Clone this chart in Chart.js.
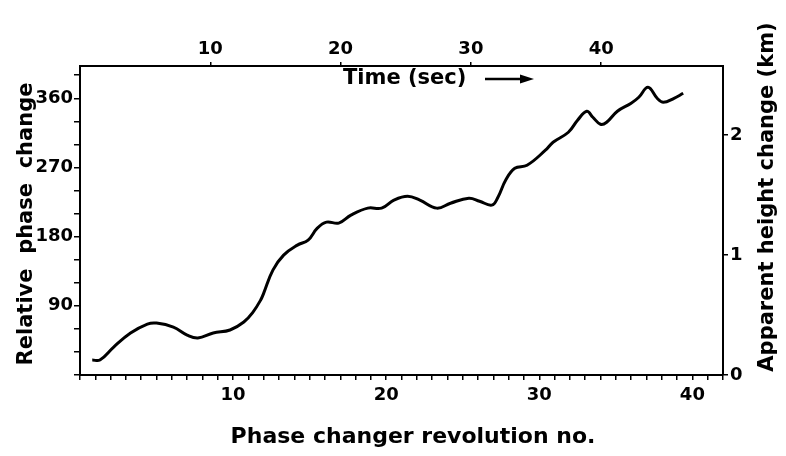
<!DOCTYPE html>
<html>
<head>
<meta charset="utf-8">
<script src="https://cdn.jsdelivr.net/npm/chart.js@4.4.0/dist/chart.umd.min.js"></script>
<style>
  body { margin: 0; background: #fff; }
  #wrap { width: 786px; height: 456px; }
</style>
</head>
<body>
<div id="wrap"><canvas id="phase-chart" width="786" height="456"></canvas></div>
<script>
// phase changer revolution no. vs relative phase change (degrees)
const revolution = [0.8, 1.3, 2.2, 3.3, 4.4, 5.0, 6.1, 7.0, 7.7, 8.7, 9.8, 10.7, 11.3, 11.8, 12.0, 12.6,
  13.3, 14.2, 14.9, 15.5, 16.1, 16.9, 17.7, 18.8, 19.7, 20.5, 21.4, 22.2, 23.3, 24.2, 25.4, 26.1,
  26.9, 27.3, 27.8, 28.4, 29.2, 30.4, 30.9, 31.9, 32.5, 33.1, 33.5, 34.0, 34.4, 35.1, 36.0, 36.5,
  37.1, 37.7, 38.1, 38.8, 39.4];
const phaseChange = [19.5, 19.5, 36.4, 54.6, 66.3, 67.6, 62.4, 52.0, 48.1, 54.6, 58.5, 68.9, 81.9, 97.5,
  106.6, 136.5, 156.0, 169.0, 175.5, 191.1, 198.9, 197.6, 208.0, 217.1, 217.1, 227.5, 232.6, 227.5,
  217.1, 223.5, 230.0, 226.1, 221.0, 231.3, 253.4, 269.0, 272.9, 292.4, 302.8, 315.8, 331.4, 343.1,
  335.3, 326.2, 328.8, 343.1, 353.5, 361.3, 374.3, 360.0, 354.8, 360.0, 366.5];

const revTickLabels = [10, 20, 30, 40];
const phaseTickLabels = [90, 180, 270, 360];
const timeTickLabels = [10, 20, 30, 40];
const heightTickLabels = [0, 1, 2];

const tickFont = { family: "DejaVu Sans", weight: "bold", size: 18 };

// axis titles and the "Time (sec) ->" note are drawn by hand so they can sit where they belong
const figureText = {
  id: "figureText",
  afterDraw(chart) {
    const ctx = chart.ctx;
    ctx.save();
    ctx.fillStyle = "#000";
    ctx.strokeStyle = "#000";
    ctx.textAlign = "center";
    ctx.textBaseline = "middle";
    ctx.font = 'bold 22px "DejaVu Sans"';
    ctx.fillText("Phase changer revolution no.", 413, 437);

    ctx.font = 'bold 21px "DejaVu Sans"';
    ctx.save();
    ctx.translate(27, 224);
    ctx.rotate(-Math.PI / 2);
    ctx.fillText("Relative  phase  change", 0, 0);
    ctx.restore();

    ctx.save();
    ctx.translate(768, 197);
    ctx.rotate(-Math.PI / 2);
    ctx.fillText("Apparent height change (km)", 0, 0);
    ctx.restore();

    ctx.font = 'bold 21px "DejaVu Sans"';
    ctx.textAlign = "left";
    ctx.fillText("Time (sec)", 343, 79);
    ctx.lineWidth = 2.5;
    ctx.beginPath();
    ctx.moveTo(485, 79);
    ctx.lineTo(524, 79);
    ctx.stroke();
    ctx.beginPath();
    ctx.moveTo(534, 79);
    ctx.lineTo(520, 74.5);
    ctx.lineTo(520, 83.5);
    ctx.closePath();
    ctx.fill();
    ctx.restore();
  },
};

const axisGrid = { drawOnChartArea: false, color: "#000", lineWidth: 1.5, tickLength: 5 };
const axisBorder = { color: "#000", width: 2 };

new Chart(document.getElementById("phase-chart").getContext("2d"), {
  type: "scatter",
  data: {
    datasets: [
      {
        data: revolution.map((r, i) => ({ x: r, y: phaseChange[i] })),
        showLine: true,
        borderColor: "#000",
        borderWidth: 3,
        pointRadius: 0,
        tension: 0.4,
        xAxisID: "x",
        yAxisID: "y",
      },
    ],
  },
  options: {
    responsive: false,
    animation: false,
    layout: { padding: 0 },
    plugins: { legend: { display: false }, tooltip: { enabled: false } },
    scales: {
      x: {
        type: "linear",
        position: "bottom",
        min: 0,
        max: 42,
        afterFit: (s) => { s.height = 81; },
        border: axisBorder,
        grid: axisGrid,
        ticks: {
          stepSize: 1,
          autoSkip: false,
          maxRotation: 0,
          includeBounds: false,
          padding: 5,
          color: "#000",
          font: tickFont,
          callback: (v) => (revTickLabels.includes(v) ? String(v) : ""),
        },
      },
      x2: {
        type: "linear",
        position: "top",
        min: 0,
        max: 49.35,
        afterFit: (s) => { s.height = 66; },
        afterBuildTicks: (s) => { s.ticks = timeTickLabels.map((v) => ({ value: v })); },
        border: axisBorder,
        grid: { ...axisGrid, tickLength: 4 },
        ticks: { autoSkip: false, maxRotation: 0, padding: 2, color: "#000", font: tickFont },
      },
      y: {
        type: "linear",
        position: "left",
        min: 0,
        max: 402,
        afterFit: (s) => { s.width = 80; },
        border: axisBorder,
        grid: { ...axisGrid, tickLength: 6 },
        ticks: {
          stepSize: 30,
          autoSkip: false,
          includeBounds: false,
          padding: 1,
          color: "#000",
          font: tickFont,
          callback: (v) => (phaseTickLabels.includes(v) ? String(v) : ""),
        },
      },
      y2: {
        type: "linear",
        position: "right",
        min: 0,
        max: 2.575,
        afterFit: (s) => { s.width = 63; },
        afterBuildTicks: (s) => { s.ticks = heightTickLabels.map((v) => ({ value: v })); },
        border: axisBorder,
        grid: { ...axisGrid, tickLength: 5 },
        ticks: { autoSkip: false, padding: 2, color: "#000", font: tickFont },
      },
    },
  },
  plugins: [figureText],
});
</script>
</body>
</html>
